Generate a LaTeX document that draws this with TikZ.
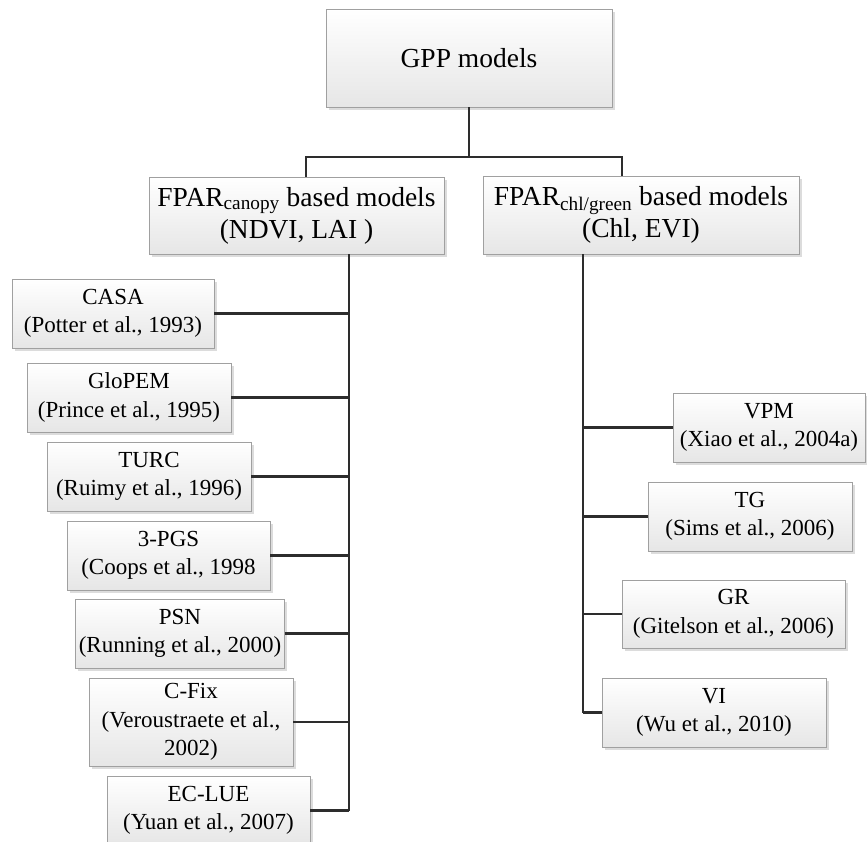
\documentclass[tikz,border=0pt]{standalone}
\usepackage{fontspec}
\setmainfont{Liberation Serif}
\usepackage{tikz}
\usetikzlibrary{positioning,calc,shadows}
\definecolor{boxLine}{RGB}{160, 160, 160}
\definecolor{boxFill}{RGB}{230, 230, 230}
\definecolor{linkGray}{RGB}{45, 45, 45}

\tikzset{
  modelbox/.style={draw=boxLine,line width=0.9pt,top color=white,bottom color=boxFill,
    align=center,inner sep=3pt,minimum height=69pt,
    drop shadow={shadow xshift=2.5pt,shadow yshift=-2.5pt,fill=black!30,opacity=0.45},
    font=\fontsize{23}{28.5}\selectfont},
  headbox/.style={modelbox,font=\fontsize{27.5}{32}\selectfont},
  link/.style={draw=linkGray,line width=2.4pt}
}

\begin{document}
\begin{tikzpicture}[x=1pt,y=-1pt]
        \useasboundingbox (0,0) rectangle (867,841);

        % Root box
        \node[headbox,minimum width=286pt,minimum height=98pt] (gpp) at (469,58) {GPP models};

        % Group boxes
        \node[headbox,minimum width=295pt,minimum height=77pt] (canopy) at (296.5,215.5)
            {FPAR\textsubscript{canopy} based models\\(NDVI, LAI )};
        \node[headbox,minimum width=316pt,minimum height=78pt] (chl) at (641,215)
            {FPAR\textsubscript{chl/green} based models\\(Chl, EVI)};

        % FPAR canopy models
        \node[modelbox,minimum width=202pt] (casa) at (113,313.5) {CASA\\(Potter et al., 1993)};
        \node[modelbox,minimum width=204pt] (glopem) at (129,397.5) {GloPEM\\(Prince et al., 1995)};
        \node[modelbox,minimum width=204pt] (turc) at (149,476.5) {TURC\\(Ruimy et al., 1996)};
        \node[modelbox,minimum width=203pt] (pgs) at (168.5,555.5) {3-PGS\\(Coops et al., 1998};
        \node[modelbox,minimum width=204pt] (psn) at (180,633.5) {PSN\\(Running et al., 2000)};
        \node[modelbox,minimum width=204pt,minimum height=88pt] (cfix) at (191,722)
            {C-Fix\\(Veroustraete et al.,\\2002)};
        \node[modelbox,minimum width=203pt] (eclue) at (208.5,810.5) {EC-LUE\\(Yuan et al., 2007)};

        % FPAR chl/green models
        \node[modelbox,minimum width=192pt] (vpm) at (769,427.5) {VPM\\(Xiao et al., 2004a)};
        \node[modelbox,minimum width=204pt] (tg) at (750,516.5) {TG\\(Sims et al., 2006)};
        \node[modelbox,minimum width=223pt,minimum height=68pt] (gr) at (733.5,614) {GR\\(Gitelson et al., 2006)};
        \node[modelbox,minimum width=224pt] (vi) at (714,712.5) {VI\\(Wu et al., 2010)};

        % Connectors
        \coordinate (lup) at (306,157);
        \coordinate (rup) at (622,157);
        \coordinate (ltrunk) at (349,0);
        \coordinate (rtrunk) at (583,0);

        \draw[link] (gpp.south) -- (gpp.south |- lup);
        \draw[link] (canopy.north -| lup) -- (lup) -- (rup) -- (chl.north -| rup);

        \draw[link] (canopy.south -| ltrunk) -- (eclue.east -| ltrunk);
        \foreach \m in {casa,glopem,turc,pgs,psn,cfix,eclue}
            \draw[link] (\m.east) -- (\m.east -| ltrunk);

        \draw[link] (chl.south -| rtrunk) -- (vi.west -| rtrunk);
        \foreach \m in {vpm,tg,gr,vi}
            \draw[link] (\m.west) -- (\m.west -| rtrunk);
    \end{tikzpicture}
\end{document}
